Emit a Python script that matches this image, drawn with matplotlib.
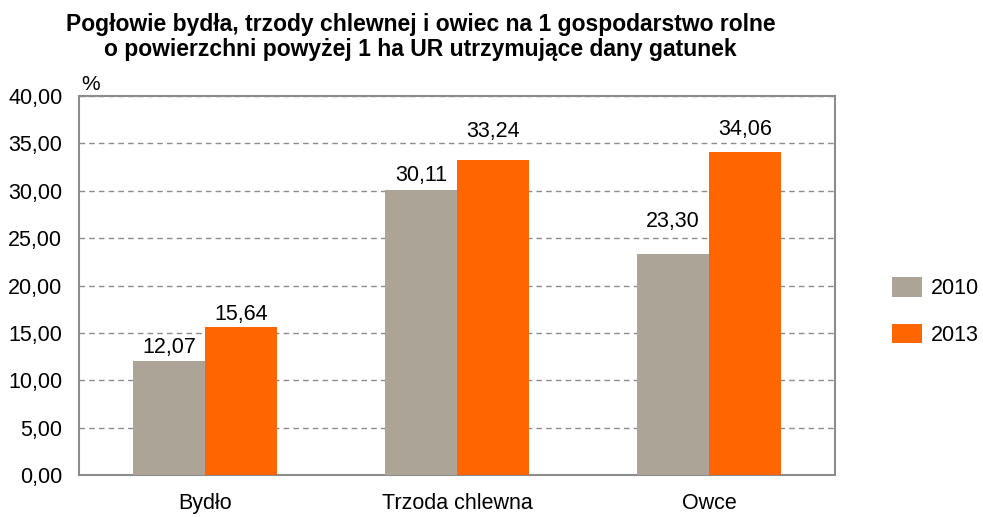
import numpy as np
import matplotlib.pyplot as plt
from matplotlib.patches import Patch

plt.rcParams['font.family'] = ['Liberation Sans', 'DejaVu Sans']

# data
categories = ["Bydło", "Trzoda chlewna", "Owce"]
years = ["2010", "2013"]
vals_2010 = [12.07, 30.11, 23.30]
vals_2013 = [15.64, 33.24, 34.06]
yticks = [0, 5, 10, 15, 20, 25, 30, 35, 40]

# gap (px) between bar top and value label baseline, as in the original
gap_2010 = [8, 9, 27]
gap_2013 = [7, 23, 17]

C_2010 = "#aca497"
C_2013 = "#ff6600"
GRID = "#8c8c8c"

fig = plt.figure(figsize=(9.83, 5.17), dpi=100)
ax = fig.add_axes([0.0804, 0.0812, 0.769, 0.733])

x = np.arange(len(categories))
w = 0.2857
b1 = ax.bar(x - w/2, vals_2010, w, color=C_2010, zorder=3)
b2 = ax.bar(x + w/2, vals_2013, w, color=C_2013, zorder=3)

def fmt(v):
    return f"{v:.2f}".replace(".", ",")

for bars, vals, gaps in ((b1, vals_2010, gap_2010), (b2, vals_2013, gap_2013)):
    for r, v, g in zip(bars, vals, gaps):
        ax.annotate(fmt(v), (r.get_x() + r.get_width()/2, v),
                    xytext=(0, g * 0.72), textcoords="offset points",
                    ha="center", va="baseline", fontsize=15.5)

ax.set_xlim(-0.5, 2.5)
ax.set_ylim(0, 40)
ax.set_yticks(yticks)
ax.set_yticklabels([fmt(t) for t in yticks], fontsize=15.5)
ax.set_xticks(x)
ax.set_xticklabels(categories, fontsize=15.5)
ax.tick_params(axis="both", length=0)
ax.tick_params(axis="y", pad=12)
ax.tick_params(axis="x", pad=13)
ax.yaxis.grid(True, linestyle=(0, (4, 3)), color=GRID, linewidth=1.0, zorder=0)
for s in ax.spines.values():
    s.set_color("#8c8c8c")
    s.set_linewidth(1.5)

fig.text(0.083, 0.819, "%", fontsize=15, ha="left", va="bottom")

fig.text(0.428, 0.975,
         "Pogłowie bydła, trzody chlewnej i owiec na 1 gospodarstwo rolne\n"
         "o powierzchni powyżej 1 ha UR utrzymujące dany gatunek",
         ha="center", va="top", fontsize=16.5, fontweight="bold", linespacing=1.1)

handles = [Patch(facecolor=C_2010, label=years[0]),
           Patch(facecolor=C_2013, label=years[1])]
fig.legend(handles=handles, loc="center left", bbox_to_anchor=(0.896, 0.397),
           frameon=False, fontsize=15.5, handlelength=1.4, handleheight=1.0,
           labelspacing=1.15, handletextpad=0.45, borderpad=0)

fig.savefig("out.png", dpi=100)
